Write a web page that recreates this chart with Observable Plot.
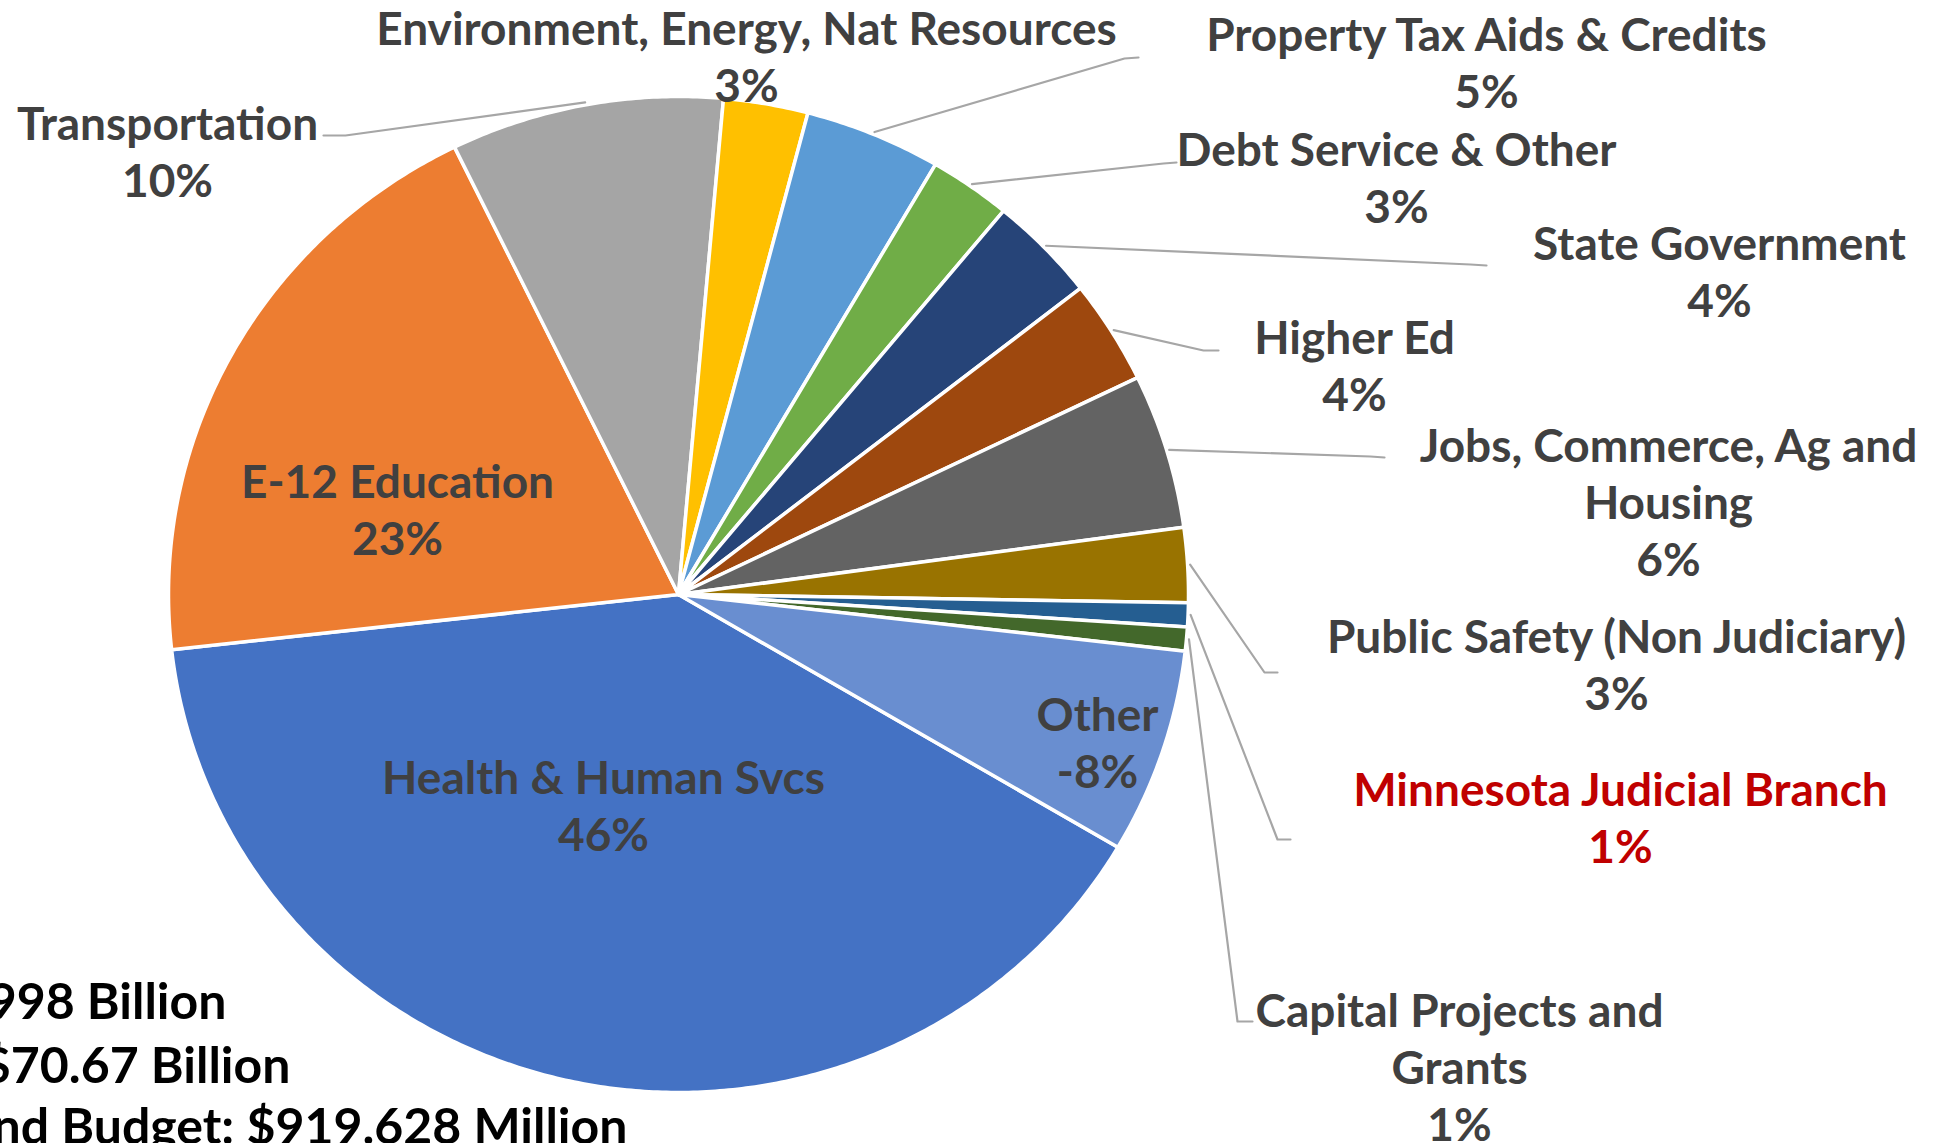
<!DOCTYPE html>
<html><head><meta charset="utf-8">
<script src="https://cdn.jsdelivr.net/npm/d3@7"></script>
<script src="https://cdn.jsdelivr.net/npm/@observablehq/plot@0.6"></script>
<style>
html,body{margin:0;padding:0;background:#fff;overflow:hidden;}
#chart{width:1934px;height:1143px;overflow:hidden;position:relative;}
</style></head><body><div id="chart"></div>
<script>
// ---- data ----
const categories = ["Health & Human Svcs","E-12 Education","Transportation","Environment, Energy, Nat Resources","Property Tax Aids & Credits","Debt Service & Other","State Government","Higher Ed","Jobs, Commerce, Ag and Housing","Public Safety (Non Judiciary)","Minnesota Judicial Branch","Capital Projects and Grants","Other"];
const shares = [46.0, 22.6, 10.0, 3.1, 5.0, 3.0, 4.0, 3.9, 5.8, 2.8, 0.9, 0.9, -7.7];
const labelNames = ["Health & Human Svcs","E-12 Education","Transportation","Environment, Energy, Nat Resources","Property Tax Aids & Credits","Debt Service & Other","State Government","Higher Ed","Jobs, Commerce, Ag and\nHousing","Public Safety (Non Judiciary)","Minnesota Judicial Branch","Capital Projects and\nGrants","Other"];
const highlight = "Minnesota Judicial Branch";
const notes = ["998 Billion", "$70.67 Billion", "nd Budget: $919.628 Million"];

// ---- layout / style ----
const W = 1934, H = 1143;
const CX = 678, CY = 594, RX = 510, RY = 498;
const START = 120.5; // first slice angle, degrees clockwise from 12 o'clock
const colors = ["#4472C4","#ED7D31","#A5A5A5","#FFC000","#5B9BD5","#70AD47","#264478","#9E480E","#636363","#997300","#255E91","#43682B","#698ED0"];
const labelPos = [[603,804],[397,508],[167,150],[746,55],[1486,61],[1396,176],[1719,270],[1354,364],[1668,500],[1616,663],[1620,816],[1459,1065],[1097,741]];
const leaderPts = [null,null,[[345,135],[323,135]],null,[[1124,58],[1138,57]],[[1163,163],[1176,162]],[[1470,264],[1486,265]],[[1203,350],[1218,350]],[[1370,456],[1384,457]],[[1264,672],[1277,672]],[[1277,839],[1290,839]],[[1237,1021],[1252,1021]],null];
const notePos = [[226,1002],[290,1066],[627,1127]];
const FONT = "Lato, 'Open Sans', sans-serif";

// ---- build ----
const absTotal = d3.sum(shares, v => Math.abs(v));
const rad = d => d * Math.PI / 180;
const pt = (deg, k = 1) => ({x: CX + k * RX * Math.sin(rad(deg)), y: CY - k * RY * Math.cos(rad(deg))});
let acc = START;
const slices = categories.map((name, i) => {
  const span = Math.abs(shares[i]) / absTotal * 360;
  const s = {name, i, a0: acc, a1: acc + span};
  acc += span;
  return s;
});
const polyRows = slices.flatMap(s => {
  const rows = [{name: s.name, ...pt(0, 0)}];
  const n = Math.max(4, Math.ceil((s.a1 - s.a0) / 0.5));
  for (let j = 0; j <= n; j++) rows.push({name: s.name, ...pt(s.a0 + (s.a1 - s.a0) * j / n)});
  return rows;
});
const leaderRows = slices.flatMap(s => {
  const lp = leaderPts[s.i];
  if (!lp) return [];
  const mid = (s.a0 + s.a1) / 2;
  return [{name: s.name, ...pt(mid, 1.005)}, {name: s.name, x: lp[0][0], y: lp[0][1]}, {name: s.name, x: lp[1][0], y: lp[1][1]}];
});
const labelRows = slices.map(s => ({
  name: s.name,
  x: labelPos[s.i][0], y: labelPos[s.i][1],
  text: labelNames[s.i] + "\n" + Math.round(shares[s.i]) + "%"
}));
const noteRows = notes.map((t, i) => ({text: t, x: notePos[i][0], y: notePos[i][1]}));

const chart = Plot.plot({
  width: W, height: H, margin: 0,
  x: {domain: [0, W], range: [0, W], axis: null},
  y: {domain: [0, H], range: [0, H], axis: null},
  color: {domain: categories, range: colors},
  style: {background: "white", fontFamily: FONT, overflow: "hidden"},
  marks: [
    Plot.line(polyRows, {x: "x", y: "y", z: "name", fill: "name", stroke: "white", strokeWidth: 3.5, strokeLinejoin: "round", curve: "linear-closed"}),
    Plot.line(leaderRows, {x: "x", y: "y", z: "name", stroke: "#A6A6A6", strokeWidth: 2.2}),
    Plot.text(labelRows.filter(d => d.name !== highlight), {x: "x", y: "y", text: "text", fill: "#404040", fontSize: 46, fontWeight: "bold", lineHeight: 1.24, textAnchor: "middle", lineAnchor: "middle"}),
    Plot.text(labelRows.filter(d => d.name === highlight), {x: "x", y: "y", text: "text", fill: "#C00000", fontSize: 46, fontWeight: "bold", lineHeight: 1.24, textAnchor: "middle", lineAnchor: "middle"}),
    Plot.text(noteRows, {x: "x", y: "y", text: "text", fill: "#000000", fontSize: 50, fontWeight: "bold", textAnchor: "end", lineAnchor: "middle"})
  ]
});
document.getElementById("chart").appendChild(chart);
</script></body></html>
